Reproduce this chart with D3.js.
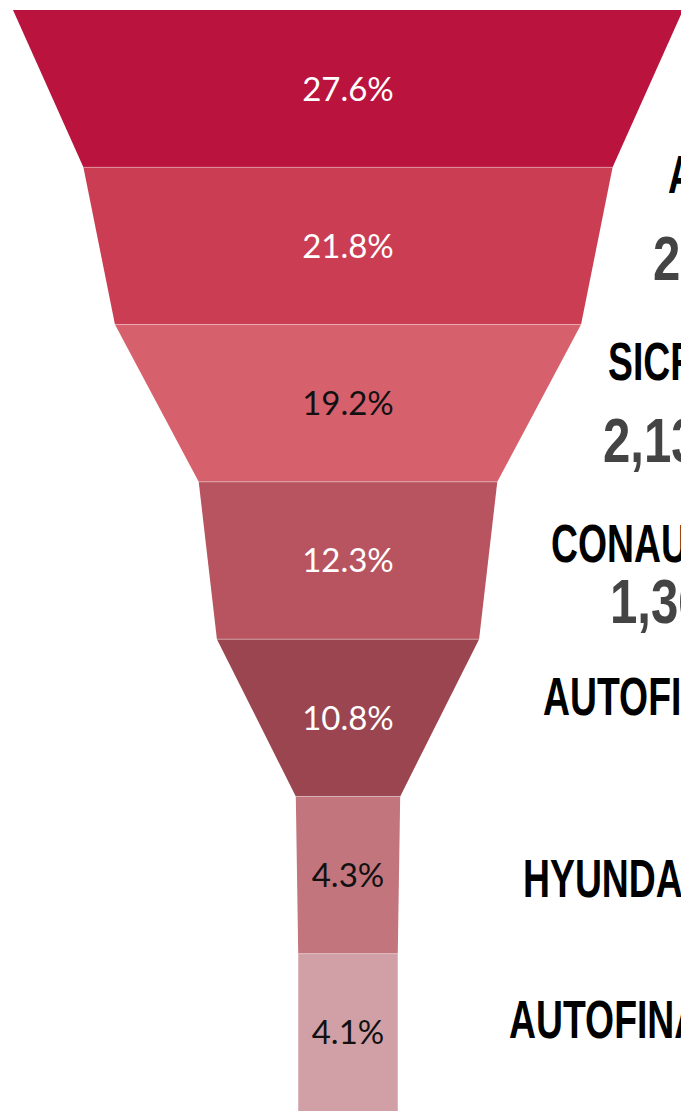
<!DOCTYPE html>
<html>
<head>
<meta charset="utf-8">
<script src="https://cdn.jsdelivr.net/npm/d3@7"></script>
<style>
  html, body { margin: 0; padding: 0; background: #fff; overflow: hidden; }
  svg { display: block; }
</style>
</head>
<body>
<svg id="chart" width="681" height="1111"></svg>
<script>
/* ================================================
   Funnel — share by company
   ================================================ */

// data (top → bottom)
const shares = [27.6, 21.8, 19.2, 12.3, 10.8, 4.3, 4.1];
const names  = ['', 'AFASA', 'SICREA', 'CONAUTO', 'AUTOFIN', 'HYUNDAI', 'AUTOFINANCIAMIENTO'];
const counts = ['', '2,420', '2,137', '1,365', '', '', ''];

// styles
const fills     = ['#ba133d', '#cb3d52', '#d7606d', '#b8545f', '#9a454f', '#c2757d', '#d0a0a6'];
const pctColors = ['#fff', '#fff', '#111', '#fff', '#fff', '#111', '#111'];

// label layout (hand placed, as in the original)
const nameX  = [null, 668, 608, 551, 543, 523, 509];
const nameDy = [null, 26, 55, 80, 76, 101, 84];
const cntX   = [null, 653, 603, 610];
const cntDy  = [null, 113, 137, 141];

const W = 681, H = 1111;
const cx = 348;

const svg = d3.select('#chart');

const y = d3.scaleBand()
  .domain(d3.range(shares.length))
  .range([10, H])
  .paddingInner(0);

const half = d3.scaleLinear()
  .domain([0, 27.6])
  .range([0, 335]);

const rows = shares.map((v, i) => ({
  i,
  v,
  top: half(v),
  bot: half(i < shares.length - 1 ? shares[i + 1] : v)
}));

// segments
svg.append('g').selectAll('path')
  .data(rows)
  .join('path')
    .attr('d', d => {
      const y0 = y(d.i), y1 = y0 + y.bandwidth();
      return `M${cx - d.top},${y0} L${cx + d.top},${y0} L${cx + d.bot},${y1} L${cx - d.bot},${y1} Z`;
    })
    .attr('fill', d => fills[d.i]);

// thin separators between segments
svg.append('g').selectAll('line')
  .data(rows.slice(1))
  .join('line')
    .attr('x1', d => cx - d.top)
    .attr('x2', d => cx + d.top)
    .attr('y1', d => y(d.i))
    .attr('y2', d => y(d.i))
    .attr('stroke', 'rgba(255,255,255,0.35)')
    .attr('stroke-width', 1);

// percentages
svg.append('g').selectAll('text')
  .data(rows)
  .join('text')
    .attr('x', cx)
    .attr('y', d => y(d.i) + y.bandwidth() / 2)
    .attr('dy', '0.36em')
    .attr('text-anchor', 'middle')
    .attr('font-family', 'Lato, "Open Sans", sans-serif')
    .attr('font-size', 33)
    .attr('fill', d => pctColors[d.i])
    .text(d => d.v.toFixed(1) + '%');

// company names + counts
const lab = svg.append('g');
rows.filter(d => names[d.i]).forEach(d => {
  lab.append('text')
    .attr('transform', `translate(${nameX[d.i]},${y(d.i) + nameDy[d.i]}) scale(0.705,1)`)
    .attr('font-family', '"Liberation Sans", Arial, sans-serif')
    .attr('font-weight', 'bold')
    .attr('font-size', 53)
    .attr('fill', '#000')
    .text(names[d.i]);
  if (counts[d.i]) {
    lab.append('text')
      .attr('transform', `translate(${cntX[d.i]},${y(d.i) + cntDy[d.i]}) scale(0.78,1)`)
      .attr('font-family', '"Liberation Sans", Arial, sans-serif')
      .attr('font-weight', 'bold')
      .attr('font-size', 63)
      .attr('fill', '#444')
      .text(counts[d.i]);
  }
});
</script>
</body>
</html>
